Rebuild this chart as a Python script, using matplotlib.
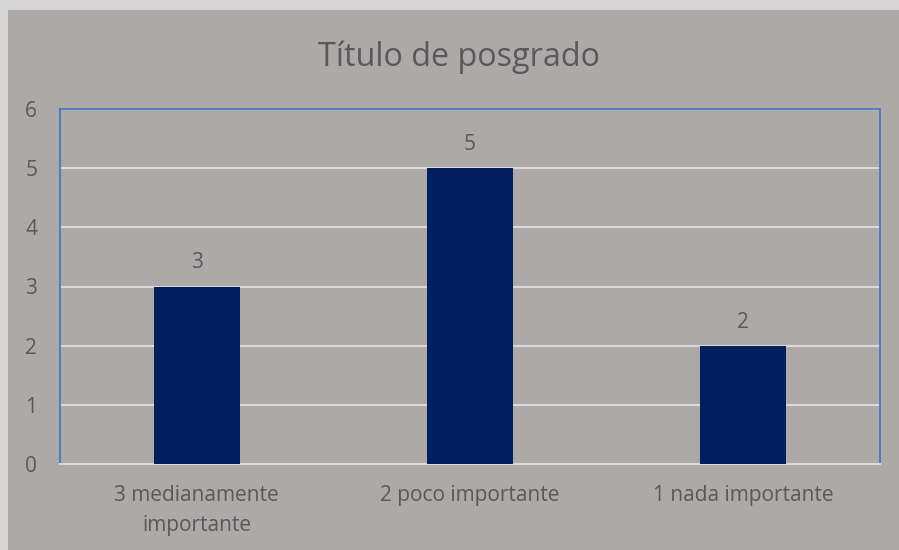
import matplotlib.pyplot as plt
import matplotlib.patches as patches

categories = ['3 medianamente\nimportante', '2 poco importante', '1 nada importante']
values = [3, 5, 2]
yticks = [0, 1, 2, 3, 4, 5, 6]

bg = '#ADA9A8'
txt = '#595959'

plt.rcParams['font.family'] = ['Open Sans', 'DejaVu Sans']

fig = plt.figure(figsize=(8.99, 5.5), dpi=100, facecolor='#D6D6D6')
# chart area background, leaving a thin light strip at the left and top
fig.patches.append(patches.Rectangle((8 / 899, 0), 1, 1 - 10 / 550,
                                     transform=fig.transFigure, facecolor=bg,
                                     edgecolor='none', zorder=-5))

ax = fig.add_axes([60 / 899, 1 - 464 / 550, 820 / 899, 355 / 550])
ax.set_zorder(2)
ax.set_facecolor(bg)

x = range(len(categories))
bars = ax.bar(x, values, width=0.315, color='#001F5C', zorder=3)
for b, v in zip(bars, values):
    ax.text(b.get_x() + b.get_width() / 2, v + 0.22, str(v), ha='center', va='bottom',
            fontsize=15, color=txt)

ax.set_xlim(-0.5, len(categories) - 0.5)
ax.set_ylim(0, 6)
ax.set_yticks(yticks)
ax.set_xticks(list(x))
ax.set_xticklabels(categories, fontsize=15, color=txt, linespacing=1.55)
ax.tick_params(axis='y', length=0, labelsize=15, labelcolor=txt, pad=25)
ax.tick_params(axis='x', length=0, pad=15)
for t in ax.get_yticklabels():
    t.set_horizontalalignment('left')

ax.grid(axis='y', color='#D9D9D9', linewidth=1.5, zorder=1)
for s in ['top', 'left', 'right']:
    ax.spines[s].set_color('#4472C4')
    ax.spines[s].set_linewidth(1.2)
ax.spines['bottom'].set_color('#D9D9D9')
ax.spines['bottom'].set_linewidth(1.5)

fig.text(459 / 899, 1 - 57 / 550, 'Título de posgrado', ha='center', va='center',
         fontsize=23.3, color=txt)

fig.savefig('out.png', dpi=100, facecolor=fig.get_facecolor())
